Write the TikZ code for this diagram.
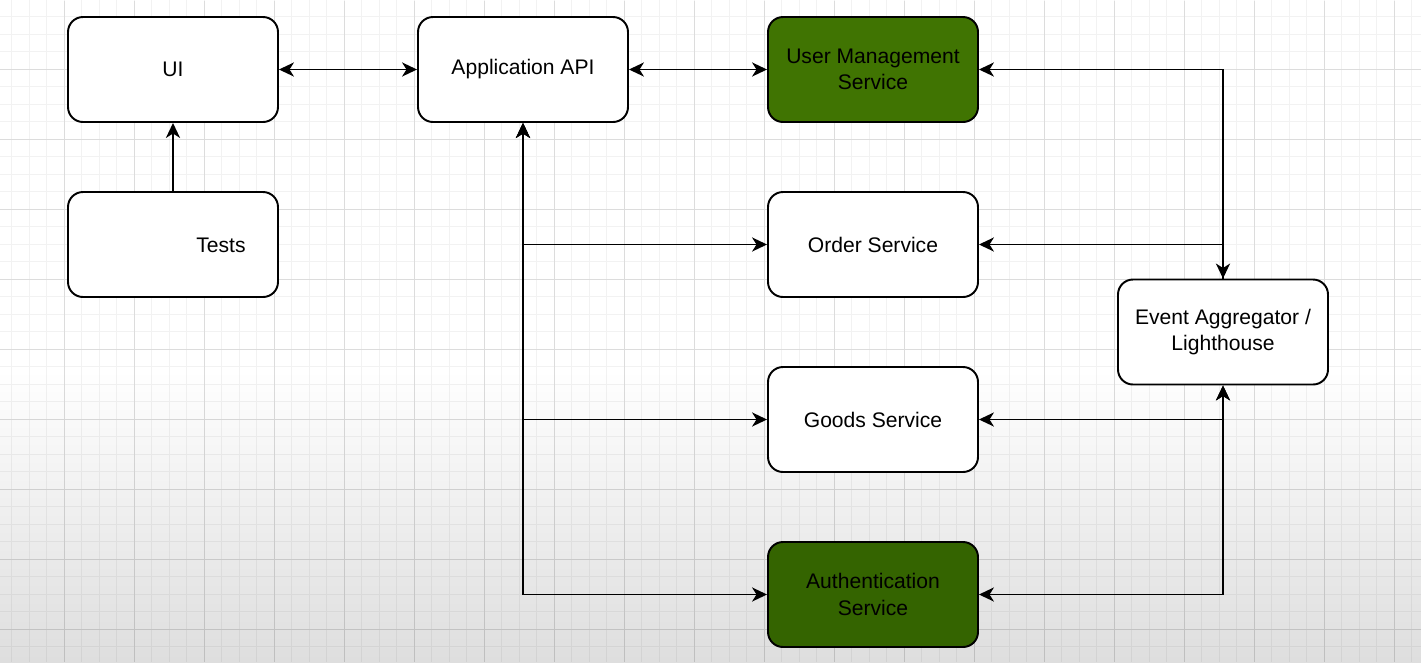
\documentclass[tikz,border=0pt]{standalone}
\usepackage{fontspec}
\setmainfont{Liberation Sans}
\usepackage{xcolor}
\usetikzlibrary{arrows.meta}
\usetikzlibrary{positioning}
\definecolor{usergreen}{RGB}{64,116,2}
\definecolor{authgreen}{RGB}{52,100,0}
\tikzset{>={Stealth[length=8.5pt, width=8pt, inset=2.5pt]}}

\begin{document}
\begin{tikzpicture}[
            font=\fontsize{12}{15}\selectfont,
            service/.style={draw, line width=1.1pt, rounded corners=0.3cm, fill=white, align=center,
                minimum width=4.2cm, minimum height=2.1cm},
            link/.style={line width=1.1pt},
            minorgrid/.style={draw=black, opacity=0.05, line width=0.35pt},
            majorgrid/.style={draw=black, opacity=0.09, line width=0.4pt}
        ]
            \useasboundingbox (0, 0) rectangle (28.42, -13.24);
            % background
            \fill[white] (0, 0) rectangle (28.42, -13.24);
            \shade[top color=white, bottom color=black!13] (0, -7.4) rectangle (28.42, -13.24);
            \begin{scope}
                \clip (0, 0) rectangle (28.42, -13.24);
                \draw[minorgrid, shift={(0.23, -0.33)}] (-0.23, -12.91) grid[step=0.35] (28.19, 0.33);
                \draw[majorgrid, shift={(1.28, -1.38)}] (-1.28, -11.86) grid[step=1.4] (27.14, 1.37);
            \end{scope}
            % boxes
            \node[service] (ui) at (3.46, -1.39) {UI};
            \node[service] (api) at (10.46, -1.39) {Application API};
            \node[service, fill=usergreen] (usermgmt) at (17.46, -1.39) {User Management\\Service};
            \node[service, label={[xshift=0.96cm, yshift=-0.02cm]center:Tests}] (tests) at (3.46, -4.89) {};
            \node[service] (order) at (17.46, -4.89) {Order Service};
            \node[service] (goods) at (17.46, -8.39) {Goods Service};
            \node[service, fill=authgreen] (auth) at (17.46, -11.89) {Authentication\\Service};
            \node[service] (events) at (24.46, -6.64) {Event Aggregator /\\Lighthouse};
            % paths
            \draw[link, <->] (ui) -- (api);
            \draw[link, <->] (api) -- (usermgmt);
            \draw[link, ->] (tests) -- (ui);
            \draw[link, <->] (api) |- (order);
            \draw[link, <->] (api) |- (goods);
            \draw[link, <->] (api) |- (auth);
            \draw[link, <->] (usermgmt) -| (events);
            \draw[link, ->] (events) |- (order);
            \draw[link, <->] (events) |- (goods);
            \draw[link, <->] (events) |- (auth);
        \end{tikzpicture}
\end{document}
